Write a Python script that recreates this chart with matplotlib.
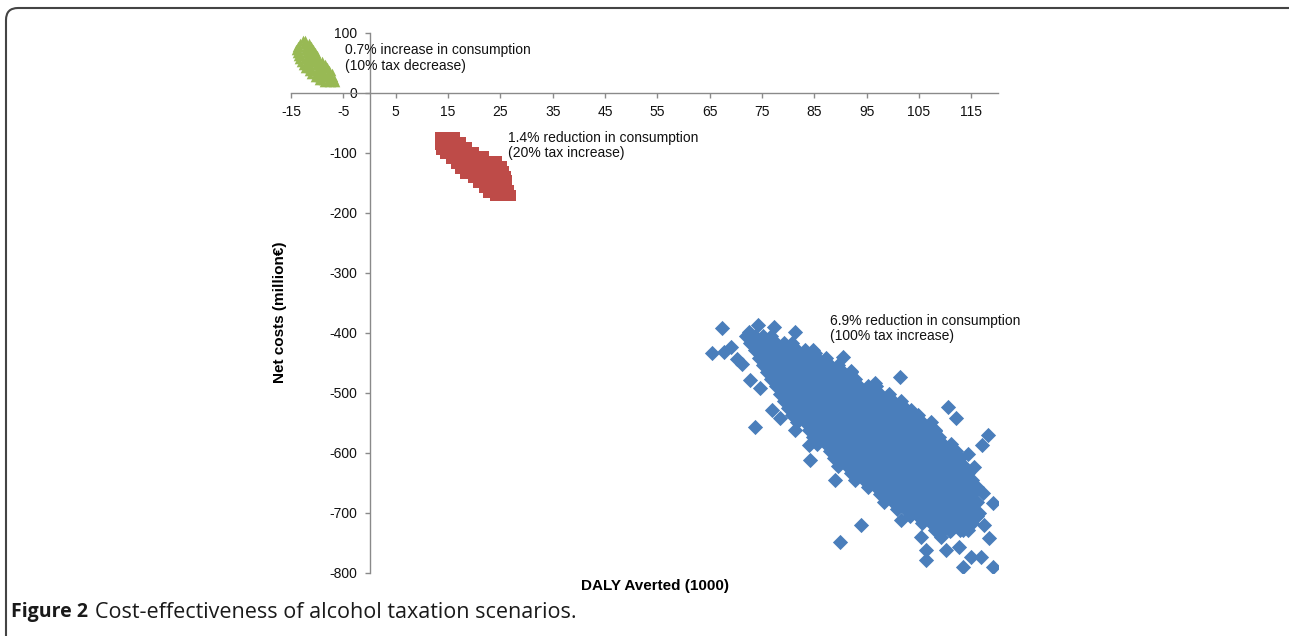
import matplotlib.pyplot as plt
from matplotlib.patches import FancyBboxPatch
from matplotlib.transforms import IdentityTransform

# 100% tax increase -> blue diamonds, read row by row off the cloud
blue_rows = [
    (-405, [72.0, 73.6, 75.2, 76.8]),
    (-417, [72.8, 74.4, 76.0, 77.6, 79.2, 80.8]),
    (-429, [73.6, 75.2, 76.8, 78.4, 80.0, 81.6, 83.2, 84.8]),
    (-441, [74.4, 76.0, 77.6, 79.2, 80.8, 82.4, 84.0, 85.6, 87.2]),
    (-453, [75.2, 76.8, 78.4, 80.0, 81.6, 83.2, 84.8, 86.4, 88.0, 89.6]),
    (-465, [76.0, 77.6, 79.2, 80.8, 82.4, 84.0, 85.6, 87.2, 88.8, 90.4, 92.0]),
    (-477, [76.8, 78.4, 80.0, 81.6, 83.2, 84.8, 86.4, 88.0, 89.6, 91.2, 92.8]),
    (-489, [77.6, 79.2, 80.8, 82.4, 84.0, 85.6, 87.2, 88.8, 90.4, 92.0, 93.6, 95.2, 96.8]),
    (-501, [78.4, 80.0, 81.6, 83.2, 84.8, 86.4, 88.0, 89.6, 91.2, 92.8, 94.4, 96.0, 97.6, 99.2]),
    (-513, [79.2, 80.8, 82.4, 84.0, 85.6, 87.2, 88.8, 90.4, 92.0, 93.6, 95.2, 96.8, 98.4, 100.0, 101.6]),
    (-525, [80.0, 81.6, 83.2, 84.8, 86.4, 88.0, 89.6, 91.2, 92.8, 94.4, 96.0, 97.6, 99.2, 100.8, 102.4]),
    (-537, [80.8, 82.4, 84.0, 85.6, 87.2, 88.8, 90.4, 92.0, 93.6, 95.2, 96.8, 98.4, 100.0, 101.6, 103.2, 104.8]),
    (-549, [81.6, 83.2, 84.8, 86.4, 88.0, 89.6, 91.2, 92.8, 94.4, 96.0, 97.6, 99.2, 100.8, 102.4, 104.0, 105.6, 107.2]),
    (-561, [84.0, 85.6, 87.2, 88.8, 90.4, 92.0, 93.6, 95.2, 96.8, 98.4, 100.0, 101.6, 103.2, 104.8, 106.4, 108.0]),
    (-573, [84.8, 86.4, 88.0, 89.6, 91.2, 92.8, 94.4, 96.0, 97.6, 99.2, 100.8, 102.4, 104.0, 105.6, 107.2, 108.8]),
    (-585, [85.6, 87.2, 88.8, 90.4, 92.0, 93.6, 95.2, 96.8, 98.4, 100.0, 101.6, 103.2, 104.8, 106.4, 108.0, 109.6, 111.2]),
    (-597, [88.0, 89.6, 91.2, 92.8, 94.4, 96.0, 97.6, 99.2, 100.8, 102.4, 104.0, 105.6, 107.2, 108.8, 110.4, 112.0]),
    (-609, [88.8, 90.4, 92.0, 93.6, 95.2, 96.8, 98.4, 100.0, 101.6, 103.2, 104.8, 106.4, 108.0, 109.6, 111.2, 112.8]),
    (-621, [89.6, 91.2, 92.8, 94.4, 96.0, 97.6, 99.2, 100.8, 102.4, 104.0, 105.6, 107.2, 108.8, 110.4, 112.0, 113.6]),
    (-633, [92.0, 93.6, 95.2, 96.8, 98.4, 100.0, 101.6, 103.2, 104.8, 106.4, 108.0, 109.6, 111.2, 112.8, 114.4]),
    (-645, [92.8, 94.4, 96.0, 97.6, 99.2, 100.8, 102.4, 104.0, 105.6, 107.2, 108.8, 110.4, 112.0, 113.6, 115.2]),
    (-657, [95.2, 96.8, 98.4, 100.0, 101.6, 103.2, 104.8, 106.4, 108.0, 109.6, 111.2, 112.8, 114.4, 116.0]),
    (-669, [97.6, 99.2, 100.8, 102.4, 104.0, 105.6, 107.2, 108.8, 110.4, 112.0, 113.6, 115.2]),
    (-681, [98.4, 100.0, 101.6, 103.2, 104.8, 106.4, 108.0, 109.6, 111.2, 112.8, 114.4, 116.0]),
    (-693, [100.8, 102.4, 104.0, 105.6, 107.2, 108.8, 110.4, 112.0, 113.6, 115.2]),
    (-705, [103.2, 104.8, 106.4, 108.0, 109.6, 111.2, 112.8, 114.4, 116.0]),
    (-717, [105.6, 107.2, 108.8, 110.4, 112.0, 113.6, 115.2]),
    (-729, [108.0, 109.6, 111.2, 112.8, 114.4]),
]
# scattered blue points around the edge of the cloud
blue_out_x = [67.3, 65.4, 67.8, 69.0, 70.3, 71.1, 72.6, 74.3, 77.2, 81.3, 85.1, 90.5, 92.1,
              96.6, 101.3, 103.5, 108.0, 110.5, 112.1, 118.1, 117.0, 114.3, 115.6, 117.2,
              119.1, 118.4, 116.9, 119.1, 113.4, 115.0, 106.4, 106.4, 109.2, 110.2, 105.4,
              112.7, 101.6, 94.0, 89.9, 88.9, 84.2, 83.9, 81.3, 73.7, 74.7, 72.7, 76.9,
              78.5, 117.5, 116.5, 113.5, 111.0]
blue_out_y = [-392, -434, -431, -423, -444, -452, -398, -387, -389.5, -398, -434, -439.5, -464,
              -483, -473, -528, -564, -523, -542, -570, -587, -601, -623, -667,
              -684, -742, -773, -789.5, -789.5, -773, -778, -762, -739.5, -762, -739.5,
              -756, -711.7, -720, -748, -645, -611.7, -586.7, -561.7, -556, -492, -478, -528,
              -542, -720, -700, -728, -730]

# 20% tax increase -> red squares
red_rows = [
    (-72, [13.2, 14.4, 15.6, 16.5]),
    (-80, [13.2, 14.4, 15.6, 16.8, 17.7]),
    (-88, [13.2, 14.4, 15.6, 16.8, 18.0, 18.8]),
    (-96, [13.5, 14.7, 15.9, 17.1, 18.3, 19.5, 20.1]),
    (-104, [14.3, 15.5, 16.7, 17.9, 19.1, 20.3, 21.5, 22.0]),
    (-112, [15.4, 16.6, 17.8, 19.0, 20.2, 21.4, 22.6, 23.8, 24.6]),
    (-120, [16.3, 17.5, 18.7, 19.9, 21.1, 22.3, 23.5, 24.7, 25.6]),
    (-128, [17.1, 18.3, 19.5, 20.7, 21.9, 23.1, 24.3, 25.5, 25.9]),
    (-136, [18.1, 19.3, 20.5, 21.7, 22.9, 24.1, 25.3, 26.2]),
    (-144, [19.5, 20.7, 21.9, 23.1, 24.3, 25.5, 26.4]),
    (-152, [20.6, 21.8, 23.0, 24.2, 25.4, 26.5]),
    (-160, [21.6, 22.8, 24.0, 25.2, 26.4, 26.9]),
    (-168, [22.5, 23.7, 24.9, 26.1, 27.2]),
    (-174, [23.8, 25.0, 26.2, 27.3]),
]

# 10% tax decrease -> green triangles
green_rows = [
    (90, [-12.8, -12.4]),
    (85, [-13.2, -12.4, -11.6]),
    (80, [-13.6, -12.8, -12.0, -11.2]),
    (75, [-14.0, -13.2, -12.4, -11.6, -10.8]),
    (70, [-14.2, -13.4, -12.6, -11.8, -11.0, -10.4]),
    (65, [-14.0, -13.2, -12.4, -11.6, -10.8, -10.0]),
    (60, [-13.8, -13.0, -12.2, -11.4, -10.6, -9.8]),
    (55, [-13.6, -12.8, -12.0, -11.2, -10.4, -9.6, -9.0]),
    (50, [-13.2, -12.4, -11.6, -10.8, -10.0, -9.2, -8.5]),
    (45, [-12.9, -12.1, -11.3, -10.5, -9.7, -8.9, -8.1]),
    (40, [-12.5, -11.7, -10.9, -10.1, -9.3, -8.5, -7.7]),
    (35, [-11.8, -11.0, -10.2, -9.4, -8.6, -7.8, -7.2]),
    (30, [-11.3, -10.5, -9.7, -8.9, -8.1, -7.3]),
    (25, [-10.7, -9.9, -9.1, -8.3, -7.5, -6.7]),
    (20, [-9.8, -9.0, -8.2, -7.4, -6.6]),
    (16, [-8.8, -8.0, -7.2, -6.4]),
]

x_ticks = [-15, -5, 5, 15, 25, 35, 45, 55, 65, 75, 85, 95, 105, 115]
y_ticks = [-800, -700, -600, -500, -400, -300, -200, -100, 0, 100]


def unpack(rows):
    xs, ys = [], []
    for y, row in rows:
        xs += row
        ys += [y] * len(row)
    return xs, ys


blue_x, blue_y = unpack(blue_rows)
blue_x += blue_out_x
blue_y += blue_out_y
red_x, red_y = unpack(red_rows)
green_x, green_y = unpack(green_rows)

plt.rcParams['font.family'] = ['Liberation Sans', 'DejaVu Sans']
plt.rcParams['axes.unicode_minus'] = False

fig = plt.figure(figsize=(12.89, 6.36), dpi=100)
ax = fig.add_axes([291 / 1289, 63 / 636, 706.5 / 1289, 540 / 636])

ax.scatter(blue_x, blue_y, marker='D', s=60, color='#4a7ebb', linewidths=0)
ax.scatter(red_x, red_y, marker='s', s=34, color='#be4b48', linewidths=0)
ax.scatter(green_x, green_y, marker='^', s=30, color='#98b954', linewidths=0)

ax.set_xlim(-15, 120)
ax.set_ylim(-800, 100)
ax.set_xticks(x_ticks)
ax.set_yticks(y_ticks)
for side in ['top', 'right']:
    ax.spines[side].set_visible(False)
ax.spines['left'].set_position(('data', 0))
ax.spines['bottom'].set_position(('data', 0))
for side in ['left', 'bottom']:
    ax.spines[side].set_color('#8a8a8a')
    ax.spines[side].set_linewidth(1.0)
ax.tick_params(axis='x', direction='out', length=3.5, width=1, color='#8a8a8a',
               pad=5.5, labelsize=10, labelcolor='#111111')
ax.tick_params(axis='y', direction='out', length=3.5, width=1, color='#8a8a8a',
               pad=5.5, labelsize=10, labelcolor='#111111')

ax.text(-4.7, 83, '0.7% increase in consumption\n(10% tax decrease)', fontsize=10,
        ha='left', va='top', linespacing=1.15, color='#111111')
ax.text(26.5, -63, '1.4% reduction in consumption\n(20% tax increase)', fontsize=10,
        ha='left', va='top', linespacing=1.15, color='#111111')
ax.text(87.9, -368, '6.9% reduction in consumption\n(100% tax increase)', fontsize=10,
        ha='left', va='top', linespacing=1.15, color='#111111')

fig.text(655 / 1289, 1 - 586 / 636, 'DALY Averted (1000)', fontsize=11, fontweight='bold',
         ha='center', va='center')
fig.text(280 / 1289, 1 - 312 / 636, 'Net costs (million€)', fontsize=11, fontweight='bold',
         rotation=90, ha='center', va='center')

# caption: bold "Figure 2" followed by the regular title text
cap_y = 1 - 612 / 636
head = fig.text(11 / 1289, cap_y, 'Figure 2', fontsize=14, fontweight='bold',
                family='Open Sans', ha='left', va='center', color='#1a1a1a')
renderer = fig.canvas.get_renderer()
head_end = head.get_window_extent(renderer).x1
fig.text((head_end + 7) / 1289, cap_y, 'Cost-effectiveness of alcohol taxation scenarios.',
         fontsize=15.5, family='Open Sans', ha='left', va='center', color='#1a1a1a')

# rounded frame around the figure, open at the bottom and right
frame = FancyBboxPatch((6, -40), 1300, 668, boxstyle='round,pad=0,rounding_size=12',
                       transform=IdentityTransform(), fill=False, edgecolor='#444444',
                       linewidth=1.5)
fig.patches.append(frame)

fig.savefig('out.png', dpi=100)
